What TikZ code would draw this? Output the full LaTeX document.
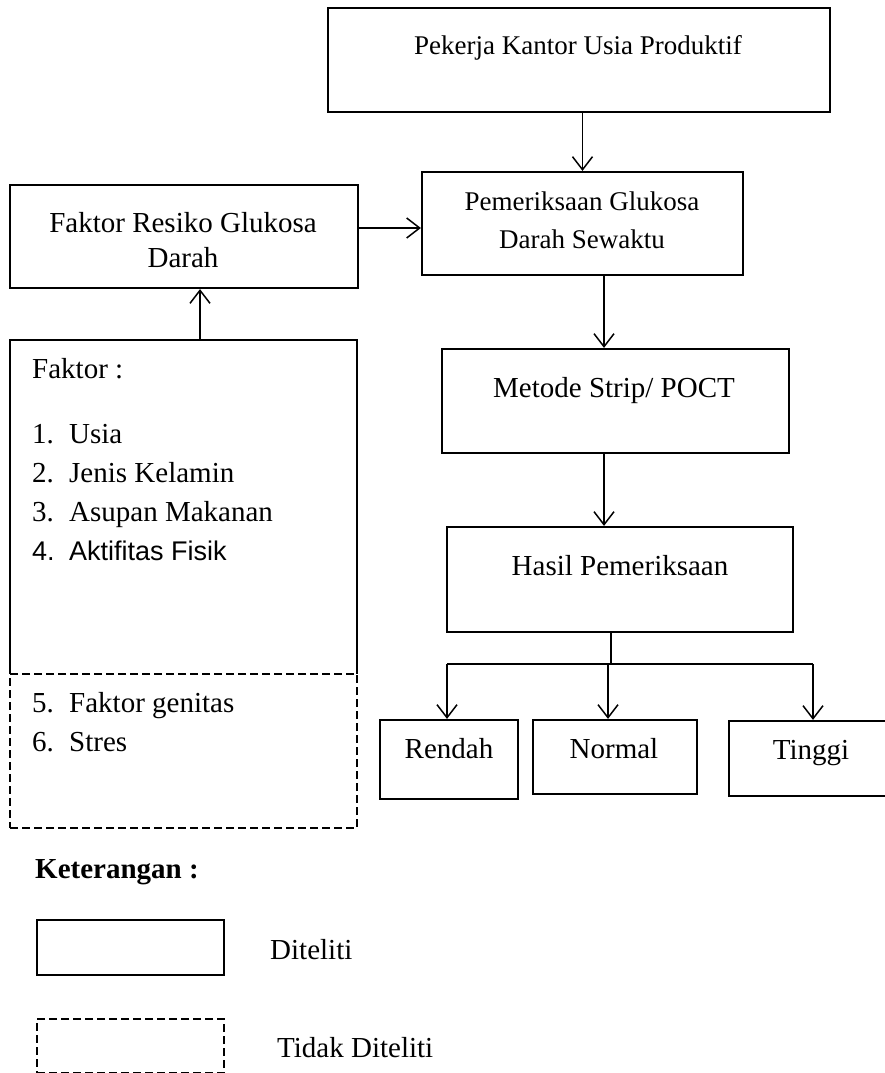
\documentclass[tikz,border=0pt]{standalone}
\usepackage{fontspec}
\setmainfont{Liberation Serif}
\newfontfamily\arialf{Liberation Sans}
\usetikzlibrary{arrows.meta}
\begin{document}
\begin{tikzpicture}[x=1pt,y=-1pt,
  box/.style={draw, line width=2.2pt, rectangle, inner sep=0pt},
  dbox/.style={draw, line width=2.2pt, rectangle, inner sep=0pt, dash pattern=on 8pt off 4pt},
  frame/.style={draw=none, rectangle, inner sep=0pt},
  txt/.style={inner sep=0pt, font=\fontsize{29}{38}\selectfont},
  stxt/.style={inner sep=0pt, font=\fontsize{27}{37}\selectfont},
  atxt/.style={inner sep=0pt, font=\arialf\fontsize{27}{38}\selectfont},
  conn/.style={line width=1.5pt},
  arr/.style={line width=1.5pt, -{Straight Barb[length=13pt,width=20pt,line width=1.5pt]}}
]
\useasboundingbox (0,0) rectangle (885,1073);

% main flow boxes
\node[box, minimum width=502pt, minimum height=104pt] (top) at (579,60) {};
\node[stxt, anchor=base] (topt) at (578,55) {Pekerja Kantor Usia Produktif};

\node[box, minimum width=321pt, minimum height=103pt] (pem) at (582.5,223.5) {};
\node[stxt, anchor=base] (pem1) at (582,210) {Pemeriksaan Glukosa};
\node[stxt, anchor=base] (pem2) at (582,248) {Darah Sewaktu};

\node[box, minimum width=348pt, minimum height=103pt] (fr) at (184,236.5) {};
\node[txt, anchor=base] (fr1) at (183,232) {Faktor Resiko Glukosa};
\node[txt, anchor=base] (fr2) at (183,267) {Darah};

\node[box, minimum width=347pt, minimum height=104pt] (met) at (615.5,401) {};
\node[txt, anchor=base] (mett) at (614,397) {Metode Strip/ POCT};

\node[box, minimum width=346pt, minimum height=105pt] (has) at (620,579.5) {};
\node[txt, anchor=base] (hast) at (620,575) {Hasil Pemeriksaan};

\node[box, minimum width=138pt, minimum height=79pt] (ren) at (449,759.5) {};
\node[txt, anchor=base] (rent) at (449,758) {Rendah};
\node[box, minimum width=164pt, minimum height=74pt] (nor) at (615,757) {};
\node[txt, anchor=base] (nort) at (614,758) {Normal};
\node[box, minimum width=159pt, minimum height=75pt] (tin) at (808.5,758.5) {};
\node[txt, anchor=base] (tint) at (811,759) {Tinggi};

% factor box: solid part (bottom edge dashed) and dashed part
\node[frame, minimum width=347pt, minimum height=334pt] (fk) at (183.5,507) {};
\draw[line width=2.2pt] (fk.south west) -- (fk.north west) -- (fk.north east) -- (fk.south east);
\node[dbox, minimum width=347pt, minimum height=154pt] (fk2) at (183.5,751) {};

\node[txt, anchor=base west] (f0) at (32,378) {Faktor :};
\node[txt, anchor=base west] (n1) at (32,443) {1.};
\node[txt, anchor=base west] (i1) at (69,443) {Usia};
\node[txt, anchor=base west] (n2) at (32,482) {2.};
\node[txt, anchor=base west] (i2) at (69,482) {Jenis Kelamin};
\node[txt, anchor=base west] (n3) at (32,521) {3.};
\node[txt, anchor=base west] (i3) at (69,521) {Asupan Makanan};
\node[atxt, anchor=base west] (n4) at (32,560) {4.};
\node[atxt, anchor=base west] (i4) at (69,560) {Aktifitas Fisik};
\node[txt, anchor=base west] (n5) at (32,712) {5.};
\node[txt, anchor=base west] (i5) at (69,712) {Faktor genitas};
\node[txt, anchor=base west] (n6) at (32,751) {6.};
\node[txt, anchor=base west] (i6) at (69,751) {Stres};

% connectors
\draw[arr] (top.south -| pem.north) -- (pem.north);
\draw[arr] ([yshift=8.5pt]fr.east) coordinate (a1) -- (a1 -| pem.west);
\draw[arr] ([xshift=16.5pt]fk.north) coordinate (a2) -- (a2 |- fr.south);
\draw[arr] ([xshift=21.5pt]pem.south) coordinate (a3) -- (a3 |- met.north);
\draw[arr] (a3 |- met.south) -- (a3 |- has.north);

\coordinate (hM) at (611,664);
\coordinate (hL) at (447,664);
\coordinate (hN) at (608,664);
\coordinate (hR) at (813,664);
\draw[conn] (hM |- has.south) -- (hM);
\draw[conn] (hL) -- (hR);
\draw[arr] (hL) -- (hL |- ren.north);
\draw[arr] (hN) -- (hN |- nor.north);
\draw[arr] (hR) -- (hR |- tin.north);

% legend
\node[txt, anchor=base west, font=\bfseries\fontsize{29}{38}\selectfont] (ket) at (35,878) {Keterangan :};
\node[box, minimum width=187pt, minimum height=55pt] (lg1) at (130.5,947.5) {};
\node[txt, anchor=base west] (lg1t) at (270,959) {Diteliti};
\node[dbox, minimum width=187pt, minimum height=54pt] (lg2) at (130.5,1046) {};
\node[txt, anchor=base west] (lg2t) at (277,1057) {Tidak Diteliti};
\end{tikzpicture}
\end{document}
